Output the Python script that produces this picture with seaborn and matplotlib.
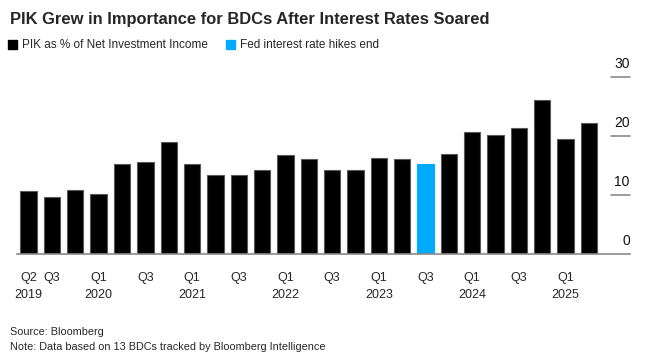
import matplotlib
matplotlib.use("Agg")
import numpy as np
import pandas as pd
import matplotlib.pyplot as plt
import seaborn as sns
from matplotlib.colors import to_hex
from matplotlib.patches import Patch

quarters = [
    "Q2 2019", "Q3 2019", "Q4 2019",
    "Q1 2020", "Q2 2020", "Q3 2020", "Q4 2020",
    "Q1 2021", "Q2 2021", "Q3 2021", "Q4 2021",
    "Q1 2022", "Q2 2022", "Q3 2022", "Q4 2022",
    "Q1 2023", "Q2 2023", "Q3 2023", "Q4 2023",
    "Q1 2024", "Q2 2024", "Q3 2024", "Q4 2024",
    "Q1 2025", "Q2 2025",
]
pik_pct = [
    10.7, 9.7, 10.8,
    10.1, 15.3, 15.6, 19.0,
    15.3, 13.3, 13.4, 14.2,
    16.7, 16.0, 14.2, 14.2,
    16.2, 16.0, 15.2, 16.9,
    20.6, 20.1, 21.4, 26.0,
    19.4, 22.2,
]
highlight = "Q3 2023"
tick_idx = [0, 1, 3, 5, 7, 9, 11, 13, 15, 17, 19, 21, 23]
tick_labels = ["Q2\n2019", "Q3", "Q1\n2020", "Q3", "Q1\n2021", "Q3", "Q1\n2022",
               "Q3", "Q1\n2023", "Q3", "Q1\n2024", "Q3", "Q1\n2025"]
y_ticks = [0, 10, 20, 30]

BLACK = "#000000"
BLUE = "#00AAFF"
GREY = "#8a8a8a"

sns.set_style("white")
plt.rcParams["font.family"] = ["Liberation Sans", "DejaVu Sans"]

df = pd.DataFrame({"quarter": quarters, "pik": pik_pct})
df["series"] = np.where(df["quarter"] == highlight,
                        "Fed interest rate hikes end",
                        "PIK as % of Net Investment Income")

fig = plt.figure(figsize=(6.52, 3.57), dpi=100)
ax = fig.add_axes([0.026, 0.2885, 0.94, 0.4965])

sns.barplot(
    data=df, x="quarter", y="pik", hue="series",
    palette={"PIK as % of Net Investment Income": BLACK,
             "Fed interest rate hikes end": BLUE},
    dodge=False, width=0.7, saturation=1, edgecolor="#5a5a5a", linewidth=0.8,
    legend=False, ax=ax
)
# the blue bar has no dark outline
for patch in ax.patches:
    if to_hex(patch.get_facecolor()).lower() == BLUE.lower():
        patch.set_edgecolor(BLUE)

ax.set_xlim(-0.5, 25.75)
ax.set_ylim(0, 30)
ax.set_xlabel("")
ax.set_ylabel("")
for s in ["top", "left", "right"]:
    ax.spines[s].set_visible(False)
ax.spines["bottom"].set_color(GREY)
ax.spines["bottom"].set_linewidth(1.2)

ax.set_xticks(tick_idx)
ax.set_xticklabels(tick_labels, fontsize=9, linespacing=1.5)
ax.tick_params(axis="x", length=5, width=1, color="#555555", pad=8)
ax.set_yticks([])

ytr = ax.get_yaxis_transform()
for v in y_ticks:
    if v > 0:
        ax.plot([0.97, 1.0], [v, v], transform=ytr, color=GREY, lw=1.2,
                clip_on=False)
    ax.text(1.0, v + 1.0, str(v), transform=ytr, ha="right", va="bottom",
            fontsize=10, color="#111111")

fig.text(0.015, 0.945, "PIK Grew in Importance for BDCs After Interest Rates Soared",
         fontsize=11.9, fontweight="bold", ha="left", va="center")

handles = [Patch(facecolor=BLACK, edgecolor=BLACK),
           Patch(facecolor=BLUE, edgecolor=BLUE)]
fig.legend(handles, ["PIK as % of Net Investment Income", "Fed interest rate hikes end"],
           loc="center left", bbox_to_anchor=(0.005, 0.873), ncol=2, frameon=False,
           fontsize=8.5, handlelength=0.75, handleheight=0.75, handletextpad=0.4,
           columnspacing=1.6, borderaxespad=0)

fig.text(0.015, 0.07, "Source: Bloomberg", fontsize=7.8, va="center")
fig.text(0.015, 0.028, "Note: Data based on 13 BDCs tracked by Bloomberg Intelligence",
         fontsize=7.8, va="center")

fig.savefig("out.png", dpi=100)
